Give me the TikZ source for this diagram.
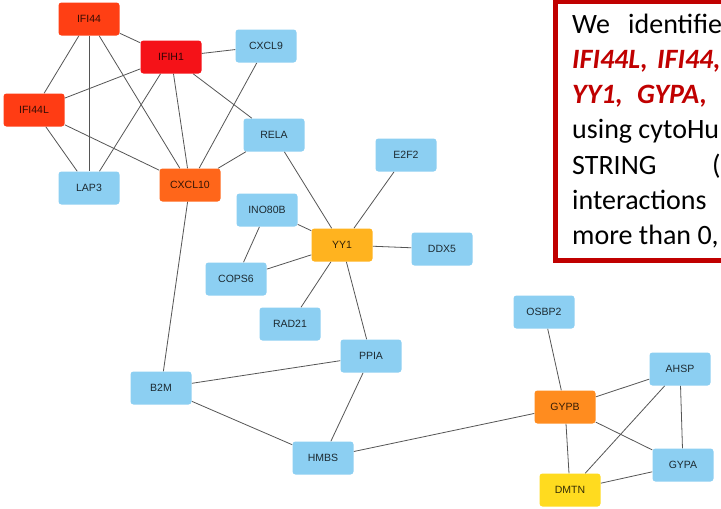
\documentclass[tikz,border=0pt]{standalone}
\usepackage{fontspec}
\setmainfont{Liberation Sans}
\newfontfamily\calfont{Carlito}
\usetikzlibrary{backgrounds}
\definecolor{nblue}{HTML}{8CCFF2}
\definecolor{cIFIfour}{HTML}{FF3F14}
\definecolor{cIFIH}{HTML}{F51218}
\definecolor{cIFIL}{HTML}{FF3C14}
\definecolor{cCX}{HTML}{FF661A}
\definecolor{cYY}{HTML}{FFB31F}
\definecolor{cGYPB}{HTML}{FF8C1F}
\definecolor{cDMTN}{HTML}{FFDB1F}
\definecolor{boxred}{HTML}{C00000}
\definecolor{edgegray}{HTML}{555555}
\tikzset{
  gene/.style={rectangle, rounded corners=3pt, minimum width=61pt, minimum height=33pt,
    inner sep=0pt, fill=nblue, text=black, text opacity=0.8,
    font=\fontsize{10.5}{12}\selectfont},
  edge/.style={draw=edgegray, line width=0.8pt},
  boxtxt/.style={anchor=base west, inner sep=0pt, font=\calfont\fontsize{28}{34}\selectfont},
  boxhl/.style={boxtxt, text=boxred, font=\calfont\bfseries\itshape\fontsize{28}{34}\selectfont}
}
\begin{document}
\begin{tikzpicture}[x=1pt,y=-1pt]
\useasboundingbox (0,0) rectangle (721,509);
\clip (0,0) rectangle (721,509);

% nodes
\node[gene, fill=cIFIfour] (IFI44) at (89,19) {IFI44};
\node[gene, fill=cIFIH] (IFIH1) at (171,57) {IFIH1};
\node[gene] (CXCL9) at (266,46) {CXCL9};
\node[gene, fill=cIFIL] (IFI44L) at (34,110) {IFI44L};
\node[gene] (RELA) at (274,135) {RELA};
\node[gene] (E2F2) at (406,155) {E2F2};
\node[gene] (LAP3) at (89,188) {LAP3};
\node[gene, fill=cCX] (CXCL10) at (190,185) {CXCL10};
\node[gene] (INO80B) at (267,210) {INO80B};
\node[gene, fill=cYY] (YY1) at (342,245) {YY1};
\node[gene] (DDX5) at (442,249) {DDX5};
\node[gene] (COPS6) at (236,279) {COPS6};
\node[gene] (RAD21) at (290,324) {RAD21};
\node[gene] (OSBP2) at (544,312) {OSBP2};
\node[gene] (PPIA) at (371,356) {PPIA};
\node[gene] (AHSP) at (680,369) {AHSP};
\node[gene] (B2M) at (161,388) {B2M};
\node[gene, fill=cGYPB] (GYPB) at (565,407) {GYPB};
\node[gene] (HMBS) at (323,458) {HMBS};
\node[gene] (GYPA) at (683,465) {GYPA};
\node[gene, fill=cDMTN] (DMTN) at (570,490) {DMTN};

% edges
\begin{scope}[on background layer]
\fill[white] (0,0) rectangle (721,509);
\draw[edge] (IFI44) -- (IFIH1);
\draw[edge] (IFI44) -- (IFI44L);
\draw[edge] (IFI44) -- (LAP3);
\draw[edge] (IFI44) -- (CXCL10);
\draw[edge] (IFIH1) -- (CXCL9);
\draw[edge] (IFIH1) -- (IFI44L);
\draw[edge] (IFIH1) -- (LAP3);
\draw[edge] (IFIH1) -- (CXCL10);
\draw[edge] (IFIH1) -- (RELA);
\draw[edge] (CXCL9) -- (CXCL10);
\draw[edge] (IFI44L) -- (LAP3);
\draw[edge] (IFI44L) -- (CXCL10);
\draw[edge] (RELA) -- (CXCL10);
\draw[edge] (RELA) -- (YY1);
\draw[edge] (E2F2) -- (YY1);
\draw[edge] (INO80B) -- (YY1);
\draw[edge] (INO80B) -- (COPS6);
\draw[edge] (COPS6) -- (YY1);
\draw[edge] (YY1) -- (DDX5);
\draw[edge] (YY1) -- (RAD21);
\draw[edge] (YY1) -- (PPIA);
\draw[edge] (CXCL10) -- (B2M);
\draw[edge] (B2M) -- (PPIA);
\draw[edge] (B2M) -- (HMBS);
\draw[edge] (PPIA) -- (HMBS);
\draw[edge] (HMBS) -- (GYPB);
\draw[edge] (OSBP2) -- (GYPB);
\draw[edge] (GYPB) -- (AHSP);
\draw[edge] (GYPB) -- (GYPA);
\draw[edge] (GYPB) -- (DMTN);
\draw[edge] (AHSP) -- (DMTN);
\draw[edge] (AHSP) -- (GYPA);
\draw[edge] (GYPA) -- (DMTN);
\end{scope}

% text box
\fill[white] (555.5,1) rectangle (740,260.5);
\draw[boxred, line width=5pt] (555.5,1) rectangle (740,260.5);
\node[boxtxt] (t1a) at (572,33) {We};
\node[boxtxt] (t1b) at (628,33) {identifie};
\node[boxhl] (t2a) at (572,68.3) {IFI44L,};
\node[boxhl] (t2b) at (657,68.3) {IFI44,};
\node[boxhl] (t3a) at (572,103.6) {YY1,};
\node[boxhl] (t3b) at (637,103.6) {GYPA,};
\node[boxtxt] (t4) at (572,138.9) {using cytoHu};
\node[boxtxt] (t5a) at (572,174.2) {STRING};
\node[boxtxt] (t5b) at (712,174.2) {(};
\node[boxtxt] (t6) at (572,209.5) {interactions};
\node[boxtxt] (t7) at (572,244.8) {more than 0,};
\end{tikzpicture}
\end{document}
